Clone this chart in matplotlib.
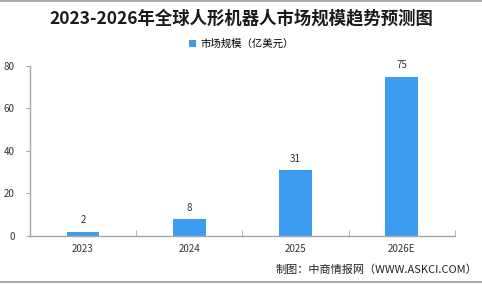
import matplotlib
matplotlib.use("Agg")
import matplotlib.pyplot as plt
from matplotlib.lines import Line2D

plt.rcParams["font.family"] = ["Noto Sans CJK SC", "DejaVu Sans"]

years = ["2023", "2024", "2025", "2026E"]
market_size = [2, 8, 31, 75]
series_name = "市场规模（亿美元）"
title = "2023-2026年全球人形机器人市场规模趋势预测图"
source = "制图：中商情报网（WWW.ASKCI.COM）"

bar_color = "#3d9cf0"
axis_color = "#a6a6a6"

fig = plt.figure(figsize=(4.82, 2.84), dpi=100)
ax = fig.add_axes([0.062, 0.169, 0.882, 0.599])

x = range(len(years))
bars = ax.bar(x, market_size, width=0.31, color=bar_color, label=series_name)
for xi, v in zip(x, market_size):
    ax.text(xi, v + 3, str(v), ha="center", va="bottom", fontsize=7, color="#333333")

ax.set_xlim(-0.5, len(years) - 0.5)
ax.set_ylim(0, 80)
ax.set_yticks([0, 20, 40, 60, 80])
ax.set_xticks(list(x))
ax.set_xticklabels(years)
ax.set_xticks([i + 0.5 for i in x], minor=True)
ax.tick_params(axis="x", which="major", length=0, labelsize=7, pad=6, colors="#333333")
ax.tick_params(axis="x", which="minor", length=4, direction="in", color=axis_color)
ax.tick_params(axis="y", length=3, color=axis_color, labelsize=7, labelcolor="#333333", pad=8)
for side in ("top", "right"):
    ax.spines[side].set_visible(False)
for side in ("left", "bottom"):
    ax.spines[side].set_color(axis_color)
    ax.spines[side].set_linewidth(1)

fig.text(0.5, 0.935, title, ha="center", va="center", fontsize=12.5, fontweight="bold", color="#1a1a1a")
leg = fig.legend(handles=[bars], labels=[series_name], loc="center", bbox_to_anchor=(0.5, 0.845),
                 frameon=False, fontsize=7.5, handlelength=0.7, handleheight=0.7, handletextpad=0.4)

fig.text(0.99, 0.05, source, ha="right", va="center", fontsize=8, color="#222222")

fig.add_artist(Line2D([0, 1], [0.998, 0.998], color="#999999", linewidth=1.2, transform=fig.transFigure))
fig.add_artist(Line2D([0, 1], [0.008, 0.008], color="#999999", linewidth=1.2, transform=fig.transFigure))

fig.savefig("out.png", dpi=100)
